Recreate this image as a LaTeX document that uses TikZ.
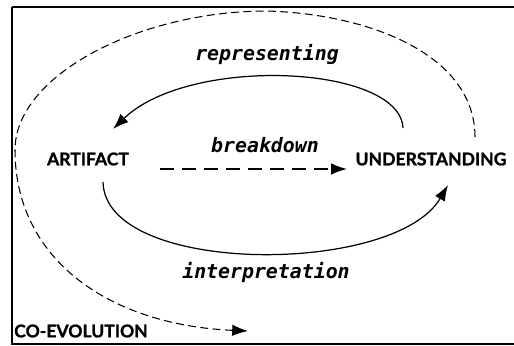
\documentclass[tikz,border=0pt]{standalone}
\usepackage{fontspec}
\setmainfont{Lato}[BoldFeatures={FakeBold=1.2}]
\newfontfamily\verbfont{DejaVu Sans Mono}
\usetikzlibrary{arrows.meta}

\tikzset{
    concept/.style={font=\fontsize{10}{12}\selectfont\bfseries, inner sep=0pt},
    verb/.style={font=\verbfont\fontsize{11.3}{13}\selectfont\bfseries\itshape, inner sep=0pt},
    tip/.style={-{Latex[length=9pt,width=6.5pt]}}
}

\begin{document}
\begin{tikzpicture}[x=0.02cm, y=-0.02cm]
    \useasboundingbox (0,0) rectangle (514,345);
    % frame
    \draw[line width=1.7pt] (12,7) -- (12,345);
    \draw[line width=1.7pt] (12,7) -- (514,7);
    \draw[line width=1.1pt] (12,344) -- (514,344);
    % concepts
    \node[concept] (artifact) at (88,159) {ARTIFACT};
    \node[concept] (understanding) at (431,159) {UNDERSTANDING};
    \node[concept] (coevolution) at (81,331) {CO-EVOLUTION};
    \node[verb] (representing) at (267,54) {representing};
    \node[verb] (breakdown) at (265,145) {breakdown};
    \node[verb] (interpretation) at (266,272) {interpretation};
    % ends of the loops
    \coordinate (understanding-top) at (403,128);
    \coordinate (artifact-top) at (113,129);
    \coordinate (artifact-bottom) at (103,182);
    \coordinate (understanding-bottom) at (448,185);
    \coordinate (artifact-right) at (160,169);
    \coordinate (understanding-left) at (347,169);
    \coordinate (understanding-outer) at (475,137);
    \coordinate (coevolution-right) at (248,331);
    % representing
    \draw[tip, line width=.7pt] (understanding-top) .. controls (400,65) and (190,55) .. (artifact-top);
    % interpretation
    \draw[tip, line width=.7pt] (artifact-bottom) .. controls (105,276) and (395,276) .. (understanding-bottom);
    % breakdown
    \draw[tip, line width=.8pt, dash pattern=on 8pt off 4.5pt] (artifact-right) -- (understanding-left);
    % co-evolution
    \draw[tip, line width=.6pt, dash pattern=on 4.5pt off 2.5pt] (understanding-outer)
        .. controls (475,55) and (370,14) .. (267,11)
        .. controls (140,11) and (15,75) .. (15,150)
        .. controls (15,260) and (110,325) .. (coevolution-right);
\end{tikzpicture}
\end{document}
